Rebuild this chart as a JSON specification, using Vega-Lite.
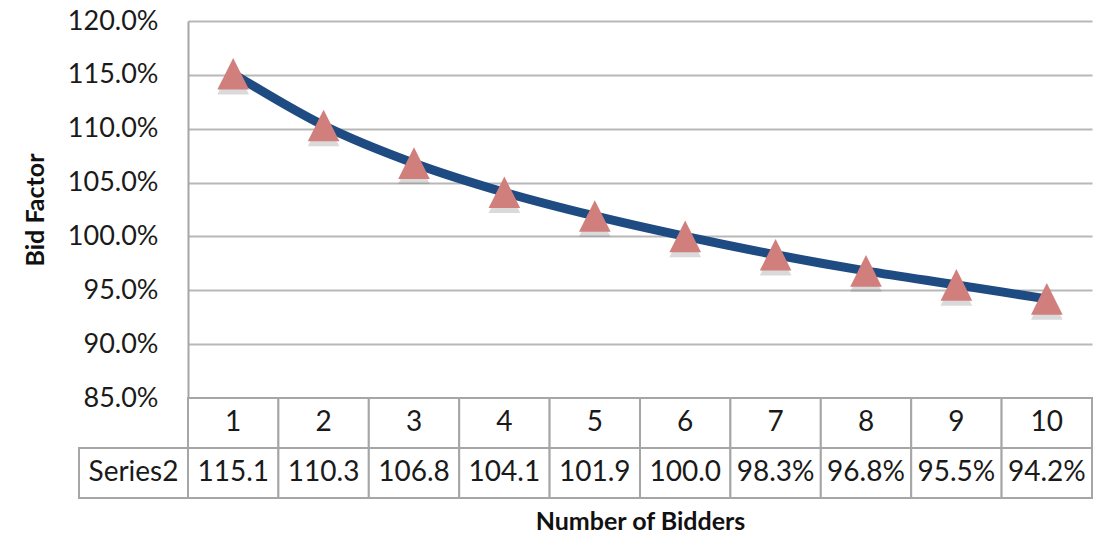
{
  "$schema": "https://vega.github.io/schema/vega-lite/v6.json",
  "width": 904,
  "height": 377,
  "autosize": {"type": "none"},
  "padding": {"left": 188, "top": 21, "right": 12, "bottom": 138},
  "background": "white",
  "config": {"view": {"stroke": null}, "font": "Lato", "text": {"font": "Lato"}},
  "data": {
    "values": [
      {"n": 1, "v": 115.1, "label": "115.1"},
      {"n": 2, "v": 110.3, "label": "110.3"},
      {"n": 3, "v": 106.8, "label": "106.8"},
      {"n": 4, "v": 104.1, "label": "104.1"},
      {"n": 5, "v": 101.9, "label": "101.9"},
      {"n": 6, "v": 100.0, "label": "100.0"},
      {"n": 7, "v": 98.3, "label": "98.3%"},
      {"n": 8, "v": 96.8, "label": "96.8%"},
      {"n": 9, "v": 95.5, "label": "95.5%"},
      {"n": 10, "v": 94.2, "label": "94.2%"}
    ]
  },
  "resolve": {"scale": {"x": "independent", "y": "independent"}},
  "layer": [
    {
      "encoding": {
        "x": {
          "field": "n", "type": "ordinal",
          "scale": {"type": "band", "paddingInner": 0, "paddingOuter": 0},
          "axis": {
            "labels": false, "ticks": false, "domain": false, "grid": false,
            "title": "Number of Bidders", "titlePadding": 111, "titleFontSize": 25,
            "titleFont": "Lato", "titleFontWeight": "bold", "titleColor": "#111111"
          }
        },
        "y": {
          "field": "v", "type": "quantitative",
          "scale": {"domain": [85, 120], "nice": false, "zero": false},
          "axis": {
            "values": [85, 90, 95, 100, 105, 110, 115, 120],
            "labelExpr": "format(datum.value, '.1f') + '%'",
            "grid": true, "gridColor": "#b8b8b8", "gridWidth": 2,
            "domain": true, "domainColor": "#a6a6a6", "domainWidth": 2,
            "ticks": false, "labelPadding": 30, "labelFontSize": 27,
            "labelFont": "Lato", "labelColor": "#1a1a1a",
            "title": "Bid Factor", "titleFontSize": 25, "titleFont": "Lato",
            "titleFontWeight": "bold", "titleColor": "#111111", "titlePadding": 19
          }
        }
      },
      "layer": [
        {"mark": {"type": "line", "interpolate": "monotone", "strokeWidth": 9, "color": "#1f4b83", "strokeCap": "round"}},
        {"mark": {"type": "point", "shape": "M0,-1L1,1L-1,1Z", "size": 1000, "filled": true, "color": "#6a6a6a", "opacity": 0.25, "yOffset": 5}},
        {"mark": {"type": "point", "shape": "M0,-1L1,1L-1,1Z", "size": 1000, "filled": true, "color": "#d07f7d", "opacity": 1}}
      ]
    },
    {
      "encoding": {
        "x": {
          "field": "n", "type": "ordinal",
          "scale": {"type": "band", "paddingInner": 0, "paddingOuter": 0},
          "axis": null
        }
      },
      "layer": [
        {
          "mark": {"type": "rect", "fill": "white", "stroke": "#a6a6a6", "strokeWidth": 2},
          "encoding": {"y": {"datum": "header", "type": "nominal", "scale": {"type": "band", "domain": ["header", "series"], "range": [377, 477], "paddingInner": 0, "paddingOuter": 0}, "axis": null}}
        },
        {
          "mark": {"type": "rect", "fill": "white", "stroke": "#a6a6a6", "strokeWidth": 2},
          "encoding": {"y": {"datum": "series", "type": "nominal", "scale": {"type": "band", "domain": ["header", "series"], "range": [377, 477], "paddingInner": 0, "paddingOuter": 0}, "axis": null}}
        },
        {
          "mark": {"type": "text", "fontSize": 28, "color": "#1a1a1a", "font": "Lato"},
          "encoding": {
            "y": {"datum": "header", "type": "nominal", "scale": {"type": "band", "domain": ["header", "series"], "range": [377, 477], "paddingInner": 0, "paddingOuter": 0}, "axis": null},
            "text": {"field": "n", "type": "ordinal"}
          }
        },
        {
          "mark": {"type": "text", "fontSize": 28, "color": "#1a1a1a", "font": "Lato"},
          "encoding": {
            "y": {"datum": "series", "type": "nominal", "scale": {"type": "band", "domain": ["header", "series"], "range": [377, 477], "paddingInner": 0, "paddingOuter": 0}, "axis": null},
            "text": {"field": "label", "type": "nominal"}
          }
        }
      ]
    },
    {
      "data": {"values": [{"row": "Series2", "r": "series"}]},
      "encoding": {
        "x": {"field": "row", "type": "nominal", "scale": {"type": "band", "domain": ["Series2"], "range": [-109, 0], "paddingInner": 0, "paddingOuter": 0}, "axis": null},
        "y": {"field": "r", "type": "nominal", "scale": {"type": "band", "domain": ["header", "series"], "range": [377, 477], "paddingInner": 0, "paddingOuter": 0}, "axis": null}
      },
      "layer": [
        {"mark": {"type": "rect", "fill": "white", "stroke": "#a6a6a6", "strokeWidth": 2}},
        {"mark": {"type": "text", "fontSize": 28, "color": "#1a1a1a", "font": "Lato"}, "encoding": {"text": {"field": "row", "type": "nominal"}}}
      ]
    }
  ]
}
